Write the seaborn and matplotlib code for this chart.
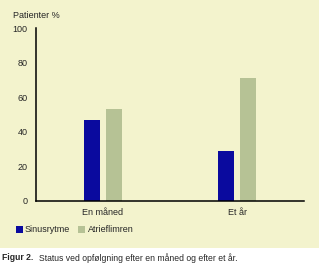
import matplotlib
matplotlib.use("Agg")
import matplotlib.pyplot as plt
import seaborn as sns
import pandas as pd
from matplotlib.patches import Rectangle

categories = ["En måned", "Et år"]
series_names = ["Sinusrytme", "Atrieflimren"]
sinus = [47, 29]
atrie = [53, 71]
yticks = [0, 20, 40, 60, 80, 100]

df = pd.DataFrame({
    "cat": categories * 2,
    "series": [series_names[0]] * 2 + [series_names[1]] * 2,
    "val": sinus + atrie,
})

sns.set_style("white")
plt.rcParams["font.family"] = ["Liberation Sans", "DejaVu Sans"]

W, H = 319, 267
fig = plt.figure(figsize=(W / 100, H / 100), dpi=100, facecolor="white")
cream = "#F3F3CD"
bg = Rectangle((0, 1 - 248 / H), 1, 248 / H, transform=fig.transFigure,
               facecolor=cream, edgecolor="none", zorder=-10)
fig.add_artist(bg)

ax = fig.add_axes([36 / W, 1 - 201 / H, (304 - 36) / W, (201 - 28) / H])
ax.set_facecolor("none")
ax.set_zorder(5)
sns.barplot(data=df, x="cat", y="val", hue="series", order=categories,
            hue_order=series_names, palette=["#0A0A9E", "#B6C295"],
            width=0.34, gap=0.3, saturation=1, linewidth=0, ax=ax, legend=False)

ax.set_xlim(-0.5, 1.5)
ax.set_ylim(0, 100)
ax.set_yticks(yticks)
ax.set_yticklabels([str(t) for t in yticks], fontsize=6.5)
ax.set_xticks([-0.5, 0.5, 1.5])
ax.set_xticklabels(["", "", ""])
ax.set_xticks([0, 1], minor=True)
ax.set_xticklabels(categories, minor=True, fontsize=6.5)
ax.tick_params(axis="x", which="minor", length=0, pad=5)
ax.tick_params(axis="x", which="major", direction="out", length=3, width=1, color="black")
ax.tick_params(axis="y", direction="out", length=3, width=1, color="black", pad=3)
ax.set_xlabel("")
ax.set_ylabel("")
for s in ["top", "right"]:
    ax.spines[s].set_visible(False)
for s in ["left", "bottom"]:
    ax.spines[s].set_color("black")
    ax.spines[s].set_linewidth(1.1)

fig.text(13 / W, 1 - 15 / H, "Patienter %", fontsize=6.5, va="center", ha="left")

# legend
fig.add_artist(Rectangle((16 / W, 1 - 233 / H), 7 / W, 7 / H, transform=fig.transFigure,
                         facecolor="#0A0A9E", edgecolor="none"))
fig.text(25 / W, 1 - 229.5 / H, series_names[0], fontsize=6.5, va="center", ha="left")
fig.add_artist(Rectangle((78 / W, 1 - 233 / H), 7 / W, 7 / H, transform=fig.transFigure,
                         facecolor="#B6C295", edgecolor="none"))
fig.text(88 / W, 1 - 229.5 / H, series_names[1], fontsize=6.5, va="center", ha="left")

fig.text(2 / W, 1 - 258 / H, "Figur 2.", fontsize=6.2, fontweight="bold", va="center", ha="left")
fig.text(39 / W, 1 - 258 / H, "Status ved opfølgning efter en måned og efter et år.",
         fontsize=6.2, va="center", ha="left")

fig.savefig("out.png", dpi=100, facecolor="white")
